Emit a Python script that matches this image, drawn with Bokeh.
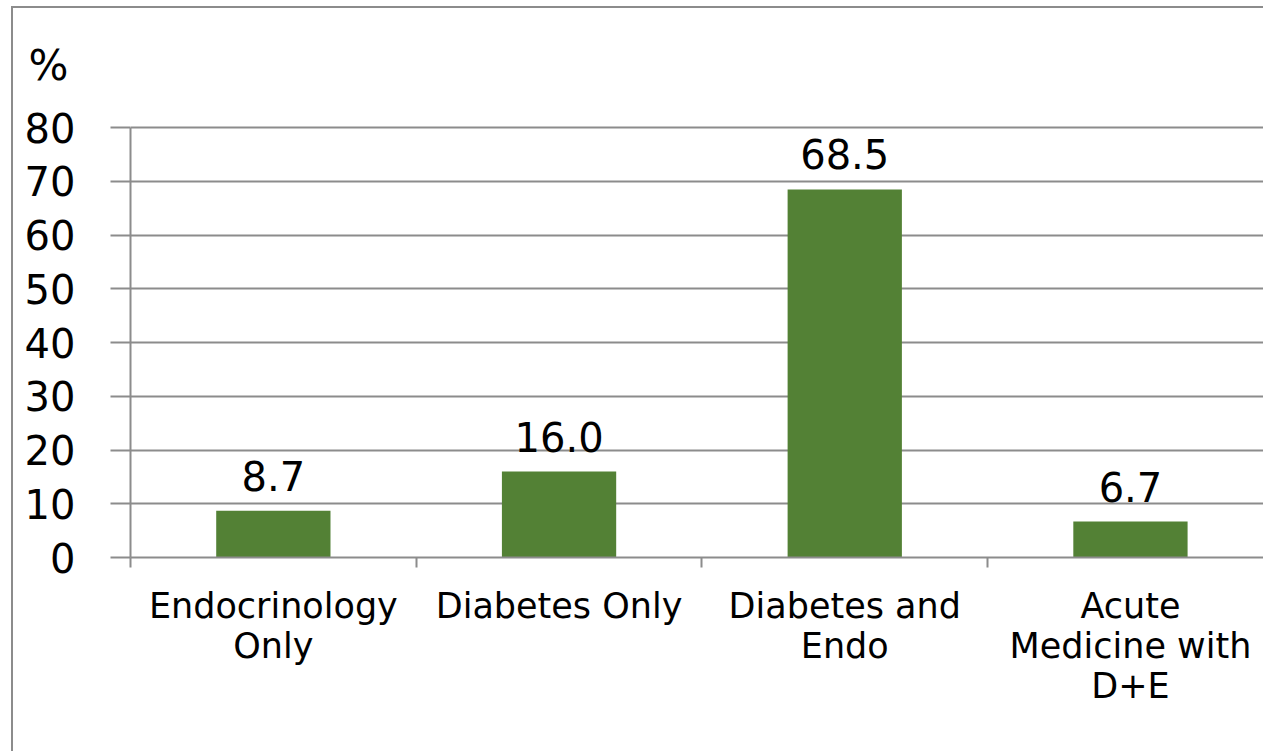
from bokeh.plotting import figure
from bokeh.models import ColumnDataSource, FixedTicker, LabelSet, Range1d
from bokeh.core.properties import value
from bokeh.embed import file_html
from bokeh.resources import INLINE

# Share of respondents by service type (%)
categories = ["Endocrinology\nOnly", "Diabetes Only", "Diabetes and\nEndo",
              "Acute\nMedicine with\nD+E"]
values = [8.7, 16.0, 68.5, 6.7]
y_ticks = [0, 10, 20, 30, 40, 50, 60, 70, 80]

BAR_GREEN = "#538135"
AXIS_GREY = "#8c8c8c"
FONT = "DejaVu Sans"

W, H = 1263, 751
LEFT, TOP, BOTTOM = 130, 125, 194
CAT_PX = 285.7                      # pixel width of one category slot
x_end = (W - LEFT) / CAT_PX         # last slot runs past the right edge

positions = [i + 0.5 for i in range(len(categories))]
source = ColumnDataSource(dict(
    x=positions, top=values, label=[f"{v:.1f}" for v in values]))

p = figure(width=W, height=H, x_range=Range1d(0, x_end),
           y_range=Range1d(0, 80.4),
           min_border_left=LEFT, min_border_right=0,
           min_border_top=TOP, min_border_bottom=BOTTOM,
           output_backend="svg", toolbar_location=None)

# keep the page itself from scrolling
try:
    from bokeh.models import GlobalInlineStyleSheet
    p.stylesheets = [GlobalInlineStyleSheet(
        css="html, body { overflow: hidden; margin: 0; }")]
except Exception:
    pass

# chart-area border: left and top edges, painted behind a transparent canvas
edge = f"linear-gradient({AXIS_GREY}, {AXIS_GREY})"
p.styles = {"background": f"{edge} 11px 6px / 2px 100% no-repeat, "
                          f"{edge} 11px 6px / 100% 2px no-repeat, white"}
p.outline_line_color = None
p.background_fill_color = None
p.border_fill_color = None

# unit label
p.title.text = "%"
p.title.align = "left"
p.title.offset = -102
p.title.standoff = 72
p.title.text_font = FONT
p.title.text_font_size = "42px"
p.title.text_font_style = "normal"
p.title.text_color = "black"

p.vbar(x="x", top="top", width=0.4, source=source,
       fill_color=BAR_GREEN, line_color=None)

# value labels above bars
p.add_layout(LabelSet(x="x", y="top", text="label", source=source,
                      y_offset=20, text_align="center",
                      text_baseline="alphabetic", text_font=value(FONT),
                      text_font_size=value("40px"), text_color="black"))

# y axis
yax = p.yaxis[0]
yax.ticker = FixedTicker(ticks=y_ticks)
yax.bounds = (0, 80)
yax.axis_line_color = AXIS_GREY
yax.axis_line_width = 2
yax.major_tick_line_color = AXIS_GREY
yax.major_tick_line_width = 2
yax.major_tick_out = 20
yax.major_tick_in = 0
yax.minor_tick_line_color = None
yax.major_label_text_font = FONT
yax.major_label_text_font_size = "40px"
yax.major_label_text_color = "black"
yax.major_label_standoff = 35

# x axis: boundary ticks between slots, labels at slot centres
xax = p.xaxis[0]
xax.ticker = FixedTicker(ticks=positions,
                         minor_ticks=list(range(len(categories) + 1)))
xax.major_label_overrides = {pos: cat for pos, cat in zip(positions, categories)}
xax.axis_line_color = AXIS_GREY
xax.axis_line_width = 2
xax.major_tick_line_color = None
xax.major_tick_out = 0
xax.major_tick_in = 0
xax.minor_tick_line_color = AXIS_GREY
xax.minor_tick_line_width = 2
xax.minor_tick_out = 10
xax.minor_tick_in = 0
xax.major_label_text_font = FONT
xax.major_label_text_font_size = "35px"
xax.major_label_text_line_height = 1.0
xax.major_label_text_color = "black"
xax.major_label_standoff = 18

p.xgrid.grid_line_color = None
p.ygrid.ticker = FixedTicker(ticks=y_ticks)
p.ygrid.grid_line_color = AXIS_GREY
p.ygrid.grid_line_width = 2

open("out.html", "w").write(file_html(p, INLINE))
